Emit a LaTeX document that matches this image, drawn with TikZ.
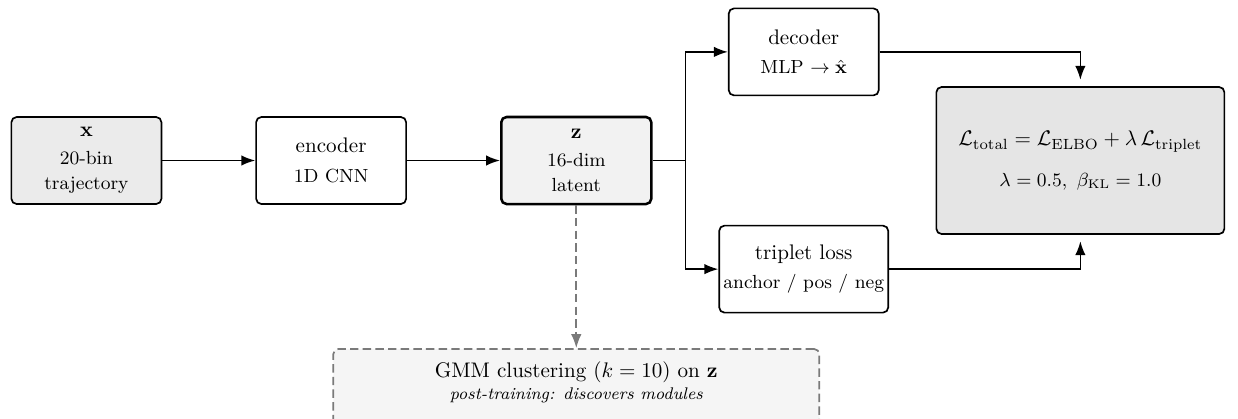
\documentclass[tikz,border=0pt]{standalone}
\usetikzlibrary{positioning,arrows.meta,calc}

\begin{document}
\begin{tikzpicture}[
  >=Latex,
  box/.style={draw, rounded corners=2.5pt, thick, minimum width=2.5cm, minimum height=1.45cm, align=center, inner xsep=2pt, fill=white},
  inbox/.style={box, fill=black!8},
  latent/.style={box, very thick, fill=black!5},
  lossbox/.style={box, fill=black!10, minimum width=4.8cm, minimum height=2.45cm},
  postbox/.style={draw=black!52, dash pattern=on 4pt off 2pt, rounded corners=2.5pt, thick, fill=black!4, minimum width=8.1cm, align=center, inner ysep=6pt, text depth=1.2cm, font=\footnotesize},
  arrow/.style={->, thick},
  dasharrow/.style={->, thick, dash pattern=on 4pt off 2pt, black!52}
]

\useasboundingbox (0,0) rectangle (20.63,-6.97);

% Main row: input -> encoder -> latent
\node[inbox] (x) at (1.44,-2.675) {$\mathbf{x}$\\[1pt]\small 20-bin\\\small trajectory};
\node[box, right=1.55cm of x] (encoder) {encoder\\[2pt]\small 1D CNN};
\node[latent, right=1.55cm of encoder] (z) {$\mathbf{z}$\\[1pt]\small 16-dim\\\small latent};

% Two heads
\node[box] at ($(z)+(3.79,1.81)$) (decoder) {decoder\\[2pt]\small MLP $\to\hat{\mathbf{x}}$};
\node[box] at ($(z)+(3.79,-1.81)$) (triplet) {triplet loss\\[2pt]\small anchor / pos / neg};

% Total loss
\node[lossbox] at ($(z)+(8.4,0)$) (loss) {%
  $\mathcal{L}_{\mathrm{total}} = \mathcal{L}_{\mathrm{ELBO}} + \lambda\,\mathcal{L}_{\mathrm{triplet}}$\\[7pt]
  \small $\lambda = 0.5,\ \beta_{\mathrm{KL}} = 1.0$
};

% Post-training clustering
\node[postbox, below=2.38cm of z] (gmm) {%
  \normalsize GMM clustering ($k=10$) on $\mathbf{z}$\\[1pt]
  \itshape post-training: discovers modules
};

% Arrows
\draw[arrow] (x) -- (encoder);
\draw[arrow] (encoder) -- (z);
\coordinate[right=0.55cm of z.east] (split);
\draw[arrow] (z.east) -- (split) |- (decoder.west);
\draw[arrow] (split) |- (triplet.west);
\draw[arrow, shorten >=3pt] (decoder.east) -| (loss.north);
\draw[arrow, shorten >=3pt] (triplet.east) -| (loss.south);
\draw[dasharrow] (z.south) -- (gmm.north);

\end{tikzpicture}
\end{document}
